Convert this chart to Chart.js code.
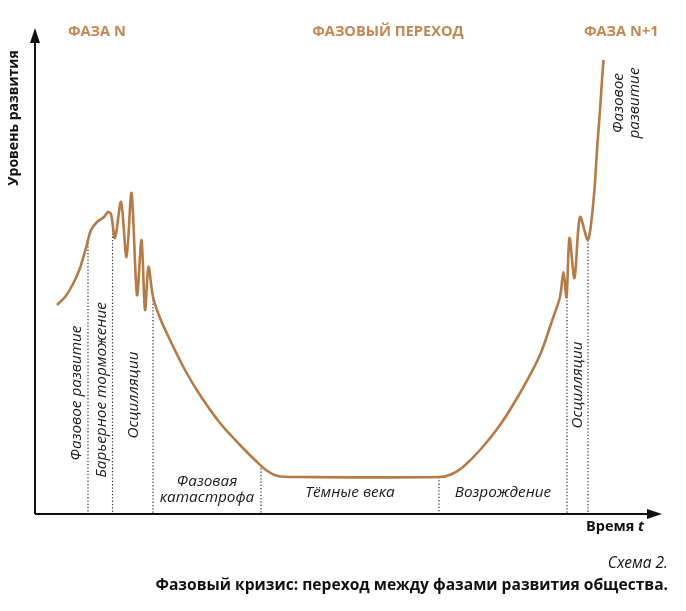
<!DOCTYPE html>
<html>
<head>
<meta charset="utf-8">
<script src="https://cdn.jsdelivr.net/npm/chart.js@4.4.1/dist/chart.umd.min.js"></script>
<style>
html,body{margin:0;padding:0;background:#fff;}
#wrap{width:686px;height:611px;position:relative;}
</style>
</head>
<body>
<div id="wrap"><canvas id="c" width="686" height="611"></canvas></div>
<script>
// ---- data (time t, development level) ----
const timeValues  = [22,30,38,45,51,56,62,69,73,76,80,86,91.5,96.5,102,106.5,110,113.5,118,125,135,150,165,185,205,220,231,243,265,405,417,428,445,465,485,505,518,525,528.5,531.5,534.5,539.5,545,553,559,562,565,567,568.5];
const levelValues = [209,217,230,246,266,284,292,297,302,300,276,312,257,321,219,274,204,247,217,196,174,144,119,91,69,54,44,38,37,37,40,47,64,89,121,159,196,217,242,217,276,236,297,274,319,364,404,434,454];
// phase boundaries (time) and curve level at each boundary
const boundaryTimes  = [53,77.5,118,226,404,532,553];
const boundaryLevels = [271,284,217,49,37,217,274];
// texts
const phaseHeaders = ['ФАЗА N','ФАЗОВЫЙ ПЕРЕХОД','ФАЗА N+1'];
const stageLabels = ['Фазовое развитие','Барьерное торможение','Осцилляции',['Фазовая','катастрофа'],'Тёмные века','Возрождение','Осцилляции',['Фазовое','развитие']];
const axisTitles = {y:'Уровень развития', x:'Время', xVar:'t'};
const captionLines = ['Схема 2.','Фазовый кризис: переход между фазами развития общества.'];

const curveColor = '#b87a45';
const headerColor = '#c48651';

const datasets = [{
  data: timeValues.map((t,i)=>({x:t,y:levelValues[i]})),
  borderColor: curveColor, borderWidth: 2.6, pointRadius: 0, tension: 0.3, fill:false, order:0
}];
boundaryTimes.forEach((t,i)=>{
  datasets.push({
    data:[{x:t,y:boundaryLevels[i]},{x:t,y:0}],
    borderColor:'#333', borderWidth:1.2, borderDash:[1.3,2], pointRadius:0, tension:0, order:1
  });
});

const textPlugin = {
  id:'texts',
  afterDraw(chart){
    const ctx = chart.ctx, a = chart.chartArea, xs = chart.scales.x;
    ctx.save();
    // axes
    ctx.strokeStyle = '#111'; ctx.fillStyle = '#111'; ctx.lineWidth = 2;
    ctx.beginPath(); ctx.moveTo(a.left, a.bottom); ctx.lineTo(a.left, a.top+10); ctx.stroke();
    ctx.beginPath(); ctx.moveTo(a.left, a.bottom); ctx.lineTo(a.right-10, a.bottom); ctx.stroke();
    ctx.beginPath(); ctx.moveTo(a.left, a.top); ctx.lineTo(a.left-5, a.top+15); ctx.lineTo(a.left+5, a.top+15); ctx.closePath(); ctx.fill();
    ctx.beginPath(); ctx.moveTo(a.right, a.bottom); ctx.lineTo(a.right-15, a.bottom-5); ctx.lineTo(a.right-15, a.bottom+5); ctx.closePath(); ctx.fill();

    // headers
    ctx.fillStyle = headerColor; ctx.font = 'bold 14.6px "Open Sans"'; ctx.textBaseline='middle';
    ctx.textAlign='left'; ctx.fillText(phaseHeaders[0], 68, 32);
    ctx.textAlign='center'; ctx.fillText(phaseHeaders[1], 388, 32);
    ctx.textAlign='left'; ctx.fillText(phaseHeaders[2], 584, 32);

    // axis titles
    ctx.fillStyle='#111';
    ctx.font = 'bold 14px "Open Sans"';
    ctx.save(); ctx.translate(14, 118); ctx.rotate(-Math.PI/2); ctx.textAlign='center'; ctx.fillText(axisTitles.y,0,0); ctx.restore();
    ctx.textAlign='left';
    ctx.font = 'bold 14.5px "Open Sans"';
    const w1 = ctx.measureText(axisTitles.x+' ').width;
    ctx.fillText(axisTitles.x+' ', 586, 527);
    ctx.font = 'bold italic 14.5px "Open Sans"';
    ctx.fillText(axisTitles.xVar, 586+w1, 527);

    // stage labels
    ctx.fillStyle='#1a1a1a';
    ctx.font = 'italic 15.3px "Open Sans"';
    const rot = (txt, x, y) => { ctx.save(); ctx.translate(x,y); ctx.rotate(-Math.PI/2); ctx.textAlign='center'; ctx.textBaseline='middle';
      if (Array.isArray(txt)) { txt.forEach((l,i)=>ctx.fillText(l,0,(i-(txt.length-1)/2)*16)); } else ctx.fillText(txt,0,0); ctx.restore(); };
    const ax = t => xs.getPixelForValue(t);
    rot(stageLabels[0], 77, 393);
    rot(stageLabels[1], 102, 390);
    rot(stageLabels[2], 134, 395);
    ctx.textAlign='center'; ctx.textBaseline='middle';
    const cx3 = (ax(boundaryTimes[2])+ax(boundaryTimes[3]))/2;
    ctx.fillText(stageLabels[3][0], cx3, 482);
    ctx.fillText(stageLabels[3][1], cx3, 498);
    ctx.fillText(stageLabels[4], (ax(boundaryTimes[3])+ax(boundaryTimes[4]))/2, 493);
    ctx.fillText(stageLabels[5], (ax(boundaryTimes[4])+ax(boundaryTimes[5]))/2, 493);
    rot(stageLabels[6], 578, 385);
    rot(stageLabels[7], 627, 103);

    // caption
    ctx.textAlign='right'; ctx.fillStyle='#111';
    ctx.font = 'italic 15.5px "Open Sans"';
    ctx.fillText(captionLines[0], 668, 564);
    ctx.font = 'bold 15.6px "Open Sans"';
    ctx.fillText(captionLines[1], 668, 586);
    ctx.restore();
  }
};

new Chart(document.getElementById('c'), {
  type:'line',
  data:{datasets},
  options:{
    responsive:false, animation:false,
    layout:{padding:{left:35,right:24,top:28,bottom:97}},
    plugins:{legend:{display:false},tooltip:{enabled:false}},
    scales:{
      x:{type:'linear',min:0,max:627,display:false},
      y:{type:'linear',min:0,max:486,display:false}
    }
  },
  plugins:[textPlugin]
});
</script>
</body>
</html>
